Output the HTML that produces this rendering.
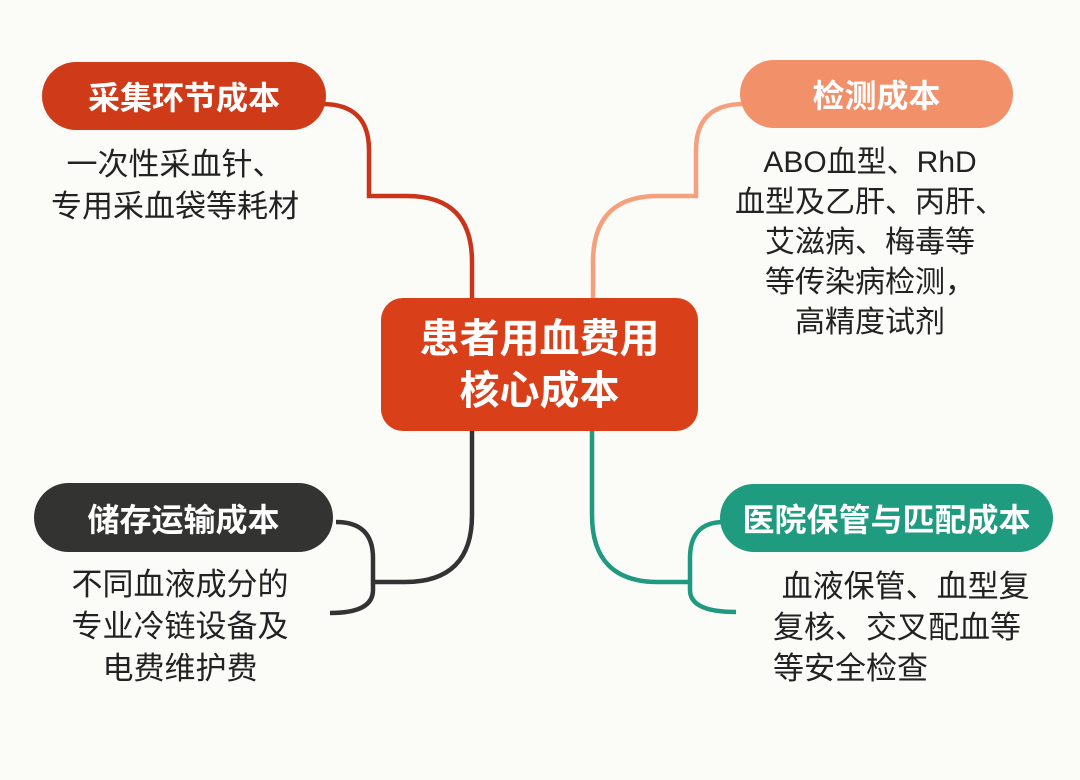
<!DOCTYPE html>
<html><head><meta charset="utf-8"><style>
body{margin:0;width:1080px;height:780px;background:#fbfbf8;position:relative;overflow:hidden;font-family:"Liberation Sans","Noto Sans CJK SC",sans-serif;}
.p{position:absolute;color:#fff;font-weight:bold;display:flex;align-items:center;justify-content:center;border-radius:40px;font-size:32px;}
.t{position:absolute;color:#222;font-size:31px;line-height:42px;}
</style></head><body>
<svg width="1080" height="780" style="position:absolute;left:0;top:0" fill="none" stroke-width="4.5">
<path d="M322 104 Q369 104 369 150 V196 H407 Q472 196 472 262 V300" stroke="#c9341a"/>
<path d="M593 300 V262 Q593 196 658 196 H696 V150 Q696 104 744 104" stroke="#f5a07c"/>
<path d="M472 430 V515 Q472 582 405 582 H373" stroke="#333"/>
<path d="M336 522 Q373 522 373 558 V582 V590 Q373 613 330 613" stroke="#333"/>
<path d="M592 430 V515 Q592 582 658 582 H690" stroke="#1f9a80"/>
<path d="M724 522 Q690 522 690 558 V590 Q690 612 736 612" stroke="#1f9a80"/>
</svg>
<div class="p" style="left:42px;top:62px;width:284px;height:68px;background:#cf3a19">采集环节成本</div>
<div class="p" style="left:740px;top:60px;width:273px;height:68px;background:#f2906a">检测成本</div>
<div class="p" style="left:34px;top:483px;width:299px;height:69px;background:#333331">储存运输成本</div>
<div class="p" style="left:720px;top:484px;width:333px;height:68px;background:#1f9b80">医院保管与匹配成本</div>
<div class="p" style="left:381px;top:298px;width:317px;height:133px;border-radius:22px;background:#d9401a;font-size:40px;line-height:52px;text-align:center">患者用血费用<br>核心成本</div>
<div class="t" style="left:20px;top:144px;width:310px;text-align:center">一次性采血针、<br>专用采血袋等耗材</div>
<div class="t" style="left:710px;top:143px;width:320px;text-align:center;line-height:40px;font-size:30px">ABO血型、RhD<br>血型及乙肝、丙肝、<br>艾滋病、梅毒等<br>等传染病检测，<br>高精度试剂</div>
<div class="t" style="left:30px;top:564px;width:300px;text-align:center;line-height:42px">不同血液成分的<br>专业冷链设备及<br>电费维护费</div>
<div class="t" style="left:773px;top:566px;width:300px;line-height:41px">&nbsp;血液保管、血型复<br>复核、交叉配血等<br>等安全检查</div>
</body></html>
